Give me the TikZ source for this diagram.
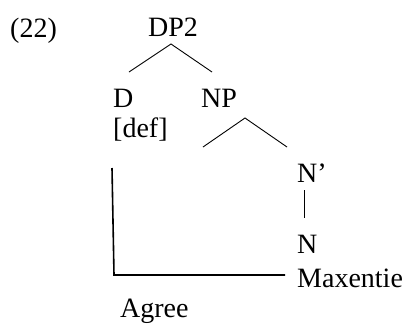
\documentclass[tikz,border=0pt]{standalone}
\usepackage{fontspec}
\setmainfont{Liberation Serif}
\begin{document}
\begin{tikzpicture}[x=1pt,y=-1pt,
  lbl/.style={anchor=base west,inner sep=0pt,font=\fontsize{28}{34}\selectfont},
  branch/.style={line width=0.9pt},
  agreeline/.style={line width=1.6pt}]
\useasboundingbox (0,0) rectangle (409,325);
\node[lbl] (ex) at (10,37) {(22)};
\node[lbl] (dp2) at (148,36) {DP2};
\node[lbl] (d) at (113,107) {D};
\node[lbl] (np) at (201,107) {NP};
\node[lbl] (def) at (113,137) {[def]};
\node[lbl] (nbar) at (297,182) {N’};
\node[lbl] (n) at (297,253) {N};
\node[lbl] (max) at (297,287) {Maxentie};
\node[lbl] (agree) at (120,317) {Agree};
% branch end points
\coordinate (dp2b) at (171,44);
\coordinate (dtop) at (129,72);
\coordinate (nptop) at (212,72);
\coordinate (npb) at (245,118);
\coordinate (lefttop) at (203,147);
\coordinate (nbartop) at (287,147);
\coordinate (nbarb) at (304,190);
\coordinate (ntop) at (304,218);
\coordinate (agreetop) at (112,168);
\coordinate (corner) at (114,275);
\coordinate (maxw) at (285,275);
\draw[branch] (dtop) -- (dp2b) -- (nptop);
\draw[branch] (lefttop) -- (npb) -- (nbartop);
\draw[branch] (nbarb) -- (ntop);
\draw[agreeline] (agreetop) -- (corner) -- (maxw);
\end{tikzpicture}
\end{document}
